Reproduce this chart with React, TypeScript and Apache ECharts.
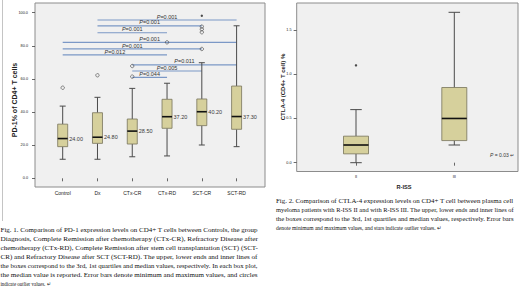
import React, { useEffect, useRef } from 'react';
import * as echarts from 'echarts';

// ---------- Data: Fig. 1 (PD-1) ----------
const pdCategories = ['Control', 'Dx', 'CTx-CR', 'CTx-RD', 'SCT-CR', 'SCT-RD'];
// [min, Q1, median, Q3, max]
const pdControl = [11.5, 19.1, 24.0, 32.7, 43.6];
const pdDx = [11.5, 21.1, 24.8, 39.6, 48.9];
const pdCtxCr = [13.0, 20.7, 28.5, 35.8, 54.3];
const pdCtxRd = [13.5, 30.2, 37.2, 47.7, 57.4];
const pdSctCr = [20.1, 31.8, 40.2, 47.9, 69.8];
const pdSctRd = [19.1, 29.6, 37.3, 55.7, 92.1];
const pdBoxes = [pdControl, pdDx, pdCtxCr, pdCtxRd, pdSctCr, pdSctRd];
const pdMedianLabels = ['24.00', '24.80', '28.50', '37.20', '40.20', '37.30'];
// [category index, value]
const pdOutliers = [[0, 54.7], [1, 62.2], [2, 67.8], [2, 61.4], [3, 82.1], [4, 78.1], [4, 88.2], [4, 90.0], [4, 91.6]];
const pdExtremes = [[4, 98.2]];
// [from category, to category, level]
const pdSigPairs = [[1, 5, 95.6], [1, 4, 92.1], [1, 3, 87.9], [0, 5, 82.1], [0, 4, 78.1], [0, 3, 74.5], [2, 5, 68.5], [2, 4, 64.8], [2, 3, 61.0]];
const pdSigLabels = ['0.001', '0.001', '0.001', '0.001', '0.001', '0.012', '0.011', '0.005', '0.044'];
const pdAxisMin = 0;
const pdAxisMax = 100;
const pdAxisStep = 20;

// ---------- Data: Fig. 2 (CTLA-4) ----------
const ctlaCategories = ['II', 'III'];
const ctlaII = [0.0, 0.10, 0.20, 0.30, 0.60];
const ctlaIII = [0.20, 0.25, 0.50, 0.85, 1.70];
const ctlaBoxes = [ctlaII, ctlaIII];
const ctlaExtremes = [[0, 1.10]];
const ctlaAxisMin = 0;
const ctlaAxisMax = 1.5;
const ctlaAxisStep = 0.5;
const ctlaPText = '0.03';

// ---------- Captions ----------
const caption1 = [
  'Fig. 1. Comparison of PD-1 expression levels on CD4+ T cells between Controls, the group',
  'Diagnosis, Complete Remission after chemotherapy (CTx-CR), Refractory Disease after',
  'chemotherapy (CTx-RD), Complete Remission after stem cell transplantation (SCT) (SCT-',
  'CR) and Refractory Disease after SCT (SCT-RD). The upper, lower ends and inner lines of',
  'the boxes correspond to the 3rd, 1st quartiles and median values, respectively. In each box plot,',
  'the median value is reported. Error bars denote minimum and maximum values, and circles',
  'indicate outlier values. \u21B5',
];
const caption2 = [
  'Fig. 2. Comparison of CTLA-4 expression levels on CD4+ T cell between plasma cell',
  'myeloma patients with R-ISS II and with R-ISS III. The upper, lower ends and inner lines of',
  'the boxes correspond to the 3rd, 1st quartiles and median values, respectively. Error bars',
  'denote minimum and maximum values, and stars indicate outlier values. \u21B5',
];

const SANS = '"Liberation Sans", Arial, sans-serif';
const SERIF = '"Liberation Serif", "Times New Roman", serif';

function makeBoxRender(boxW: number, capW: number, labels?: string[]) {
  return (params: any, api: any) => {
    const i = api.value(0);
    const pMin = api.coord([i, api.value(1)]);
    const yQ1 = api.coord([i, api.value(2)])[1];
    const yMed = api.coord([i, api.value(3)])[1];
    const yQ3 = api.coord([i, api.value(4)])[1];
    const yMax = api.coord([i, api.value(5)])[1];
    const cx = pMin[0];
    const yMin = pMin[1];
    const ls = { stroke: '#4a4a4a', lineWidth: 1 };
    const children: any[] = [
      { type: 'line', shape: { x1: cx, y1: yMax, x2: cx, y2: yQ3 }, style: ls },
      { type: 'line', shape: { x1: cx, y1: yQ1, x2: cx, y2: yMin }, style: ls },
      { type: 'line', shape: { x1: cx - capW / 2, y1: yMax, x2: cx + capW / 2, y2: yMax }, style: ls },
      { type: 'line', shape: { x1: cx - capW / 2, y1: yMin, x2: cx + capW / 2, y2: yMin }, style: ls },
      {
        type: 'rect',
        shape: { x: cx - boxW / 2, y: yQ3, width: boxW, height: yQ1 - yQ3 },
        style: { fill: '#d6d09c', stroke: '#77735a', lineWidth: 0.8 },
      },
      {
        type: 'line',
        shape: { x1: cx - boxW / 2, y1: yMed, x2: cx + boxW / 2, y2: yMed },
        style: { stroke: '#111', lineWidth: 1.6 },
      },
    ];
    if (labels) {
      children.push({
        type: 'text',
        x: cx + boxW / 2 + 1.5,
        y: yMed,
        style: {
          text: labels[params.dataIndex],
          fontSize: 5.5,
          fontFamily: SANS,
          fill: '#3a3a3a',
          align: 'left',
          verticalAlign: 'middle',
          textAlign: 'left',
          textVerticalAlign: 'middle',
        },
      });
    }
    return { type: 'group', children };
  };
}

function sigRender(params: any, api: any) {
  const y = api.value(2);
  const p1 = api.coord([api.value(0), y]);
  const p2 = api.coord([api.value(1), y]);
  return {
    type: 'group',
    children: [
      {
        type: 'line',
        shape: { x1: p1[0], y1: p1[1], x2: p2[0], y2: p2[1] },
        style: { stroke: '#7b98c6', lineWidth: 1.2 },
      },
      {
        type: 'text',
        x: (p1[0] + p2[0]) / 2,
        y: p1[1] - 0.4,
        style: {
          text: '{i|P}{n|=' + pdSigLabels[params.dataIndex] + '}',
          rich: {
            i: { fontStyle: 'italic', fontSize: 5.5, fontFamily: SANS, fill: '#333' },
            n: { fontSize: 5.5, fontFamily: SANS, fill: '#333' },
          },
          fontSize: 5.5,
          fontFamily: SANS,
          fill: '#333',
          align: 'center',
          verticalAlign: 'bottom',
          textAlign: 'center',
          textVerticalAlign: 'bottom',
        },
      },
    ],
  };
}

function captionElements(lines: string[], x: number, width: number, lastWidth: number, y0: number, lh: number, size: number) {
  const canvas = document.createElement('canvas');
  const ctx = canvas.getContext('2d') as CanvasRenderingContext2D;
  ctx.font = `${size}px "Liberation Serif"`;
  return lines.map((t, i) => {
    const w = ctx.measureText(t).width || 1;
    const target = i === lines.length - 1 ? lastWidth : width;
    return {
      type: 'text',
      x,
      y: y0 + i * lh,
      scaleX: target / w,
      style: {
        text: t,
        fontSize: size,
        fontFamily: SERIF,
        fill: '#111',
        align: 'left',
        verticalAlign: 'middle',
        textAlign: 'left',
        textVerticalAlign: 'middle',
      },
    };
  });
}

export default function App() {
  const ref = useRef<HTMLDivElement>(null);
  useEffect(() => {
    document.body.style.margin = '0';
    if (!ref.current) return;
    const chart = echarts.init(ref.current, undefined, { renderer: 'svg' });

    const axisTick = { show: true, length: 3, lineStyle: { color: '#444', width: 0.8 } };

    const option: any = {
      animation: false,
      grid: [
        { left: 45.3, top: 12.7, width: 208.7, height: 165.6 },
        { left: 306.85, top: 30, width: 196.6, height: 132.7 },
      ],
      xAxis: [
        {
          type: 'category', gridIndex: 0, data: pdCategories, offset: 8.7,
          axisLine: { show: false },
          axisTick: { ...axisTick, alignWithLabel: true },
          axisLabel: { fontSize: 5, color: '#222', margin: 3, fontFamily: SANS },
          splitLine: { show: false },
        },
        {
          type: 'category', gridIndex: 1, data: ctlaCategories, offset: 8.8,
          axisLine: { show: false },
          axisTick: { ...axisTick, alignWithLabel: true },
          axisLabel: { fontSize: 4, color: '#222', margin: 3, fontFamily: SANS },
          splitLine: { show: false },
        },
      ],
      yAxis: [
        {
          type: 'value', gridIndex: 0, min: pdAxisMin, max: pdAxisMax, interval: pdAxisStep, offset: 10.3,
          axisLine: { show: false },
          axisTick,
          splitLine: { show: false },
          axisLabel: { fontSize: 3.8, color: '#222', margin: 7, fontFamily: SANS, formatter: (v: number) => v.toFixed(1) },
        },
        {
          type: 'value', gridIndex: 1, min: ctlaAxisMin, max: ctlaAxisMax, interval: ctlaAxisStep, offset: 10.2,
          axisLine: { show: false },
          axisTick,
          splitLine: { show: false },
          axisLabel: { fontSize: 3.8, color: '#222', margin: 5, fontFamily: SANS, formatter: (v: number) => v.toFixed(1) },
        },
      ],
      series: [
        {
          type: 'custom', xAxisIndex: 0, yAxisIndex: 0,
          renderItem: sigRender,
          encode: { x: [0, 1], y: 2 },
          data: pdSigPairs,
          z: 3,
        },
        {
          type: 'custom', xAxisIndex: 0, yAxisIndex: 0,
          renderItem: makeBoxRender(10, 6, pdMedianLabels),
          encode: { x: 0, y: [1, 2, 3, 4, 5] },
          data: pdBoxes.map((b, i) => [i, ...b]),
          z: 4,
        },
        {
          type: 'scatter', xAxisIndex: 0, yAxisIndex: 0,
          symbol: 'circle', symbolSize: 3.4,
          itemStyle: { color: 'rgba(0,0,0,0)', borderColor: '#444', borderWidth: 0.8 },
          data: pdOutliers,
          z: 5,
        },
        {
          type: 'scatter', xAxisIndex: 0, yAxisIndex: 0,
          symbol: 'circle', symbolSize: 2.4,
          itemStyle: { color: '#222' },
          data: pdExtremes,
          z: 5,
        },
        {
          type: 'custom', xAxisIndex: 1, yAxisIndex: 1,
          renderItem: makeBoxRender(25, 11.5),
          encode: { x: 0, y: [1, 2, 3, 4, 5] },
          data: ctlaBoxes.map((b, i) => [i, ...b]),
          z: 4,
        },
        {
          type: 'scatter', xAxisIndex: 1, yAxisIndex: 1,
          symbol: 'circle', symbolSize: 2.4,
          itemStyle: { color: '#222' },
          data: ctlaExtremes,
          z: 5,
        },
      ],
      graphic: [
        { type: 'line', z: -2, shape: { x1: 2.5, y1: 0, x2: 2.5, y2: 221 }, style: { stroke: '#c4c4c4', lineWidth: 1 } },
        { type: 'rect', z: -1, shape: { x: 35, y: 3, width: 230, height: 184 }, style: { fill: '#f0f0f0', stroke: '#8c8c8c', lineWidth: 1 } },
        { type: 'rect', z: -1, shape: { x: 296.7, y: 3, width: 221.3, height: 168.5 }, style: { fill: '#f0f0f0', stroke: '#8c8c8c', lineWidth: 1 } },
        {
          type: 'text', x: 14, y: 100, rotation: Math.PI / 2,
          style: { text: 'PD-1% of CD4+ T cells', fontSize: 7, fontWeight: 'bold', fontFamily: SANS, fill: '#222', align: 'center', verticalAlign: 'middle', textAlign: 'center', textVerticalAlign: 'middle' },
        },
        {
          type: 'text', x: 282.7, y: 87, rotation: Math.PI / 2,
          style: { text: 'CTLA-4 (CD4+ T cell) %', fontSize: 6, fontWeight: 'bold', fontFamily: SANS, fill: '#222', align: 'center', verticalAlign: 'middle', textAlign: 'center', textVerticalAlign: 'middle' },
        },
        {
          type: 'text', x: 404, y: 187,
          style: { text: 'R-ISS', fontSize: 5.6, fontWeight: 'bold', fontFamily: SANS, fill: '#222', align: 'center', verticalAlign: 'middle', textAlign: 'center', textVerticalAlign: 'middle' },
        },
        {
          type: 'text', x: 490, y: 155,
          style: {
            text: '{i|P}{n| = ' + ctlaPText + ' \u21B5}',
            rich: {
              i: { fontStyle: 'italic', fontSize: 5, fontFamily: SANS, fill: '#333' },
              n: { fontSize: 5, fontFamily: SANS, fill: '#333' },
            },
            fontSize: 5, fontFamily: SANS, fill: '#333',
            align: 'left', verticalAlign: 'middle', textAlign: 'left', textVerticalAlign: 'middle',
          },
        },
        ...captionElements(caption1, 0.5, 257.5, 50, 229.3, 9, 6.3),
        ...captionElements(caption2, 276, 238, 166, 201, 8.9, 6.3),
      ],
    };
    chart.setOption(option);
    return () => chart.dispose();
  }, []);
  return <div ref={ref} style={{ width: 520, height: 307 }} />;
}
